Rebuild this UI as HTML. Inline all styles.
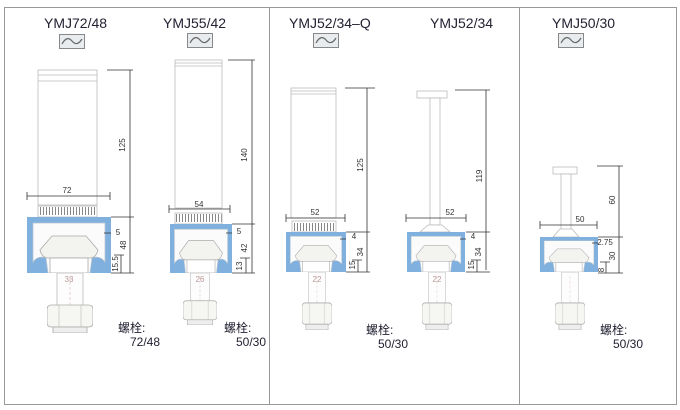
<!DOCTYPE html>
<html><head><meta charset="utf-8"><style>
html,body{margin:0;padding:0;background:#fff;}
svg{display:block;font-family:"Liberation Sans","Noto Sans CJK SC",sans-serif;}
</style></head><body>
<svg width="680" height="410" viewBox="0 0 680 410" xmlns="http://www.w3.org/2000/svg">
<defs>
<symbol id="prof" viewBox="0 0 84 56" preserveAspectRatio="none">
<rect x="0" y="0" width="84" height="56" fill="#7fb0de"/>
<path d="M6,6 H78 V45 Q73,38 65,41 L63,56 H21 L19,41 Q11,38 6,45 Z" fill="#fbfbfb" stroke="#b9c6d2" stroke-width="0.8"/>
<path d="M13,33 L25,19 H59 L71,33 Q69,41 63,41 H21 Q15,41 13,33 Z" fill="#f3f3f0" stroke="#aaa" stroke-width="0.8"/>
<rect x="23" y="41" width="38" height="15" fill="#fff" stroke="#aaa" stroke-width="0.8"/>
</symbol>
<symbol id="bolt" viewBox="0 0 46 60" preserveAspectRatio="none">
<rect x="10" y="0" width="26" height="34" fill="#fdfdfd" stroke="#bbb" stroke-width="0.8"/>
<line x1="23" y1="4" x2="23" y2="32" stroke="#d9b9b9" stroke-width="0.6" stroke-dasharray="3 2"/>
<rect x="0" y="32" width="46" height="22" rx="4" fill="#f6f6f2" stroke="#aaa" stroke-width="0.8"/>
<line x1="12" y1="32" x2="12" y2="54" stroke="#bbb" stroke-width="0.6"/>
<line x1="34" y1="32" x2="34" y2="54" stroke="#bbb" stroke-width="0.6"/>
<rect x="6" y="54" width="34" height="6" fill="#eee" stroke="#aaa" stroke-width="0.8"/>
</symbol>
<symbol id="icon" viewBox="0 0 26 15">
<rect x="0.5" y="0.5" width="25" height="14" fill="#e8ecef" stroke="#888"/>
<path d="M3,10 Q8,1 13,7 T23,5" fill="none" stroke="#666" stroke-width="1.2"/>
</symbol>
</defs>

<!-- panels -->
<rect x="4.5" y="7.5" width="265" height="397" fill="#fff" stroke="#999"/>
<rect x="269.5" y="7.5" width="250" height="397" fill="#fff" stroke="#999"/>
<rect x="519.5" y="7.5" width="157" height="397" fill="#fff" stroke="#999"/>

<g font-size="14" fill="#223">
<text x="44" y="28">YMJ72/48</text>
<text x="163" y="28">YMJ55/42</text>
<text x="289" y="28">YMJ52/34–Q</text>
<text x="430" y="28">YMJ52/34</text>
<text x="552" y="28">YMJ50/30</text>
</g>
<use href="#icon" x="59" y="34" width="26" height="15"/>
<use href="#icon" x="187" y="33" width="26" height="15"/>
<use href="#icon" x="313" y="33" width="26" height="15"/>
<use href="#icon" x="558" y="33" width="26" height="15"/>

<g stroke="#bbb" stroke-width="0.8" fill="#fff">
<!-- U1 -->
<rect x="38" y="70" width="59" height="135"/><line x1="38" y1="75" x2="97" y2="75"/><line x1="38" y1="81" x2="97" y2="81"/>
<!-- U2 -->
<rect x="175" y="60" width="47" height="148"/><line x1="175" y1="63" x2="222" y2="63"/><line x1="175" y1="66" x2="222" y2="66"/>
<!-- U3 -->
<rect x="291" y="88" width="45" height="130"/><line x1="291" y1="91" x2="336" y2="91"/><line x1="291" y1="94" x2="336" y2="94"/>
<!-- U4 -->
<rect x="417" y="91" width="30" height="7"/><rect x="430" y="98" width="10" height="127"/>
<path d="M420,232 L428,225 H442 L450,232 Z"/>
<!-- U5 -->
<rect x="553" y="167" width="24" height="7"/><rect x="561" y="174" width="10" height="56"/>
<path d="M553,237 L560,229 H572 L579,237 Z"/>
</g>
<!-- combs -->
<g stroke="#888" stroke-width="8" stroke-dasharray="1 2">
<line x1="40" y1="211" x2="96" y2="211"/>
<line x1="176" y1="218" x2="222" y2="218"/>
<line x1="294" y1="227" x2="334" y2="227"/>
</g>
<g stroke="#bbb" stroke-width="0.8" fill="none">
<rect x="38" y="206" width="59" height="11"/>
<rect x="175" y="213" width="47" height="11"/>
<rect x="292" y="221" width="44" height="11"/>
</g>

<use href="#prof" x="27" y="217" width="84" height="56"/>
<use href="#prof" x="170" y="224" width="62" height="49"/>
<use href="#prof" x="286" y="232" width="60" height="40"/>
<use href="#prof" x="407" y="232" width="58" height="40"/>
<use href="#prof" x="540" y="237" width="58" height="35"/>

<use href="#bolt" x="47" y="273" width="46" height="60"/>
<use href="#bolt" x="183" y="273" width="34" height="52"/>
<use href="#bolt" x="302" y="272" width="30" height="58"/>
<use href="#bolt" x="422" y="272" width="30" height="58"/>
<use href="#bolt" x="555" y="272" width="30" height="58"/>

<!-- dimension lines -->
<g stroke="#333" stroke-width="0.8" fill="none">
<path d="M107,70 H133 M130,70 V273 M111,217 H134 M111,273 H134 M121,255 V273 M114,255 H124 M27,192 V200 M110,192 V200 M27,196 H110 M111,233 H104"/>
<path d="M228,60 H255 M252,60 V273 M232,224 H255 M232,273 H255 M246,258 V273 M240,258 H250 M169,205 V213 M230,205 V213 M169,209 H230 M232,233 H226"/>
<path d="M345,88 H375 M367,88 V272 M346,232 H370 M346,272 H370 M358,260 V272 M352,260 H362 M286,214 V222 M345,214 V222 M286,218 H345 M346,239 H340"/>
<path d="M455,90 H490 M486,90 V270 M466,232 H490 M466,272 H490 M477,260 V272 M471,260 H481 M406,214 V222 M466,214 V222 M406,218 H466 M466,239 H460"/>
<path d="M597,166 H623 M619,166 V273 M598,237 H623 M598,273 H623 M606,262 V273 M600,262 H610 M540,221 V229 M597,221 V229 M540,225 H597 M598,243 H592"/>
</g>
<g font-size="8" fill="#333" text-anchor="middle">
<text x="67" y="193">72</text>
<text x="125" y="145" transform="rotate(-90 125 145)">125</text>
<text x="126" y="245" transform="rotate(-90 126 245)">48</text>
<text x="118" y="264" transform="rotate(-90 118 264)">15.5</text>
<text x="118" y="235">5</text>
<text x="199" y="207">54</text>
<text x="247" y="155" transform="rotate(-90 247 155)">140</text>
<text x="247" y="248" transform="rotate(-90 247 248)">42</text>
<text x="242" y="266" transform="rotate(-90 242 266)">13</text>
<text x="239" y="234">5</text>
<text x="315" y="215">52</text>
<text x="363" y="165" transform="rotate(-90 363 165)">125</text>
<text x="363" y="252" transform="rotate(-90 363 252)">34</text>
<text x="355" y="265" transform="rotate(-90 355 265)">15</text>
<text x="354" y="239">4</text>
<text x="450" y="215">52</text>
<text x="482" y="176" transform="rotate(-90 482 176)">119</text>
<text x="481" y="252" transform="rotate(-90 481 252)">34</text>
<text x="474" y="265" transform="rotate(-90 474 265)">15</text>
<text x="473" y="239">4</text>
<text x="580" y="222">50</text>
<text x="615" y="200" transform="rotate(-90 615 200)">60</text>
<text x="605" y="245">2.75</text>
<text x="615" y="256" transform="rotate(-90 615 256)">30</text>
<text x="604" y="270" transform="rotate(-90 604 270)">8</text>
</g>
<g font-size="8" fill="#b99" text-anchor="middle">
<text x="69" y="282">33</text><text x="200" y="282">26</text><text x="317" y="282">22</text><text x="437" y="282">22</text>
</g>
<g font-size="12" fill="#223">
<text x="118" y="332">螺栓:</text><text x="130" y="346">72/48</text>
<text x="224" y="332">螺栓:</text><text x="236" y="346">50/30</text>
<text x="366" y="334">螺栓:</text><text x="378" y="348">50/30</text>
<text x="600" y="334">螺栓:</text><text x="613" y="348">50/30</text>
</g>
</svg>
</body></html>
